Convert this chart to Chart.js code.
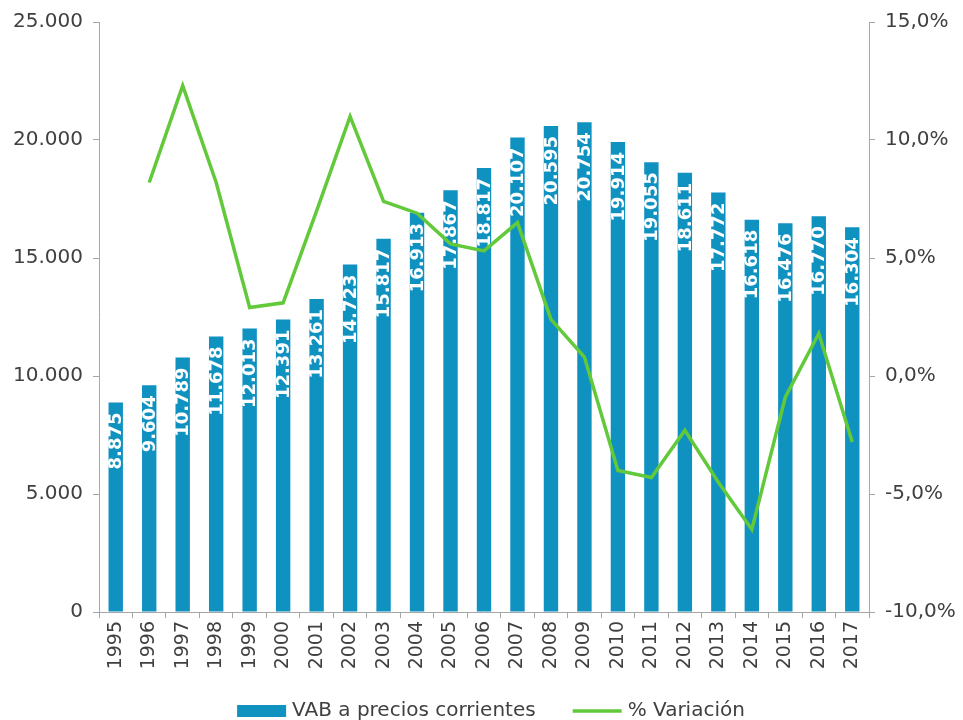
<!DOCTYPE html>
<html>
<head>
<meta charset="utf-8">
<script src="https://cdn.jsdelivr.net/npm/chart.js@4.4.1/dist/chart.umd.min.js"></script>
<style>
  html, body { margin: 0; padding: 0; background: #fff; }
  #wrap { width: 963px; height: 720px; }
</style>
</head>
<body>
<div id="wrap"><canvas id="vabChart" width="963" height="720"></canvas></div>
<script>
// VAB a precios corrientes y % variación, 1995-2017

const years = ['1995','1996','1997','1998','1999','2000','2001','2002','2003','2004','2005',
  '2006','2007','2008','2009','2010','2011','2012','2013','2014','2015','2016','2017'];

const vab = [8875, 9604, 10789, 11678, 12013, 12391, 13261, 14723, 15817, 16913, 17867,
  18817, 20107, 20595, 20754, 19914, 19055, 18611, 17772, 16618, 16476, 16770, 16304];

const variacion = [null, 8.2, 12.3, 8.2, 2.9, 3.1, 7.0, 11.0, 7.4, 6.9, 5.6,
  5.3, 6.5, 2.4, 0.8, -4.0, -4.3, -2.3, -4.5, -6.5, -0.9, 1.8, -2.8];

const leftTicks = [0, 5000, 10000, 15000, 20000, 25000];
const rightTicks = [-10, -5, 0, 5, 10, 15];

const fontFamily = '"DejaVu Sans", Verdana, sans-serif';
const barColor = '#1092c1';
const lineColor = '#62c93a';
const axisColor = '#a6a6a6';
const textColor = '#404040';

const fmtThousands = v => v.toLocaleString('de-DE');
const fmtPct = v => v.toFixed(1).replace('.', ',') + '%';

// white rotated value labels inside the bars (drawn before the line)
const barLabels = {
  id: 'barLabels',
  afterDatasetDraw(chart, args) {
    if (args.index !== 1) return;
    const ctx = chart.ctx;
    ctx.save();
    ctx.fillStyle = '#ffffff';
    ctx.font = 'bold 18px ' + fontFamily;
    ctx.textAlign = 'right';
    ctx.textBaseline = 'middle';
    args.meta.data.forEach((bar, i) => {
      ctx.save();
      ctx.translate(bar.x + 1, bar.y + 10);
      ctx.rotate(-Math.PI / 2);
      ctx.fillText(fmtThousands(vab[i]), 0, 0);
      ctx.restore();
    });
    ctx.restore();
  }
};

// legend along the bottom edge: bar swatch first, then the line
const bottomLegend = {
  id: 'bottomLegend',
  afterDraw(chart) {
    const ctx = chart.ctx;
    const items = [chart.data.datasets[1], chart.data.datasets[0]];
    const y = 711, swatch = 49, gap = 6, itemGap = 37;
    ctx.save();
    ctx.font = '20px ' + fontFamily;
    ctx.textBaseline = 'middle';
    const widths = items.map(d => swatch + gap + ctx.measureText(d.label).width);
    const total = widths.reduce((a, b) => a + b, 0) + itemGap;
    let x = 491 - total / 2;
    items.forEach((d, i) => {
      if (d.type === 'line') {
        ctx.strokeStyle = lineColor;
        ctx.lineWidth = 3.5;
        ctx.beginPath();
        ctx.moveTo(x, y);
        ctx.lineTo(x + swatch, y);
        ctx.stroke();
      } else {
        ctx.fillStyle = barColor;
        ctx.fillRect(x, y - 6, swatch, 12);
      }
      ctx.fillStyle = textColor;
      ctx.fillText(d.label, x + swatch + gap, y);
      x += widths[i] + itemGap;
    });
    ctx.restore();
  }
};

const ctx = document.getElementById('vabChart').getContext('2d');

new Chart(ctx, {
  type: 'bar',
  data: {
    labels: years,
    datasets: [
      {
        type: 'line',
        label: '% Variación',
        data: variacion,
        yAxisID: 'y1',
        borderColor: lineColor,
        backgroundColor: lineColor,
        borderWidth: 3.5,
        pointRadius: 0,
        tension: 0,
        order: 0
      },
      {
        label: 'VAB a precios corrientes',
        data: vab,
        yAxisID: 'y',
        backgroundColor: barColor,
        categoryPercentage: 1,
        barPercentage: 0.43,
        order: 1
      }
    ]
  },
  options: {
    responsive: false,
    animation: false,
    layout: { padding: { top: 18, right: 0, bottom: 0, left: 0 } },
    plugins: {
      legend: { display: false },
      tooltip: { enabled: false }
    },
    scales: {
      x: {
        afterFit: s => { s.height = 108; },
        grid: {
          display: true,
          drawOnChartArea: false,
          drawTicks: true,
          tickLength: 6,
          color: axisColor
        },
        border: { color: axisColor },
        ticks: {
          minRotation: 90,
          maxRotation: 90,
          color: textColor,
          font: { family: fontFamily, size: 19 },
          padding: 3
        }
      },
      y: {
        position: 'left',
        min: 0,
        max: 25000,
        afterFit: s => { s.width = 99; },
        afterBuildTicks: axis => { axis.ticks = leftTicks.map(v => ({ value: v })); },
        grid: { drawOnChartArea: false, drawTicks: true, tickLength: 6, color: axisColor },
        border: { color: axisColor },
        ticks: {
          color: textColor,
          font: { family: fontFamily, size: 20 },
          padding: 10,
          callback: v => fmtThousands(v)
        }
      },
      y1: {
        position: 'right',
        min: -10,
        max: 15,
        afterFit: s => { s.width = 94; },
        afterBuildTicks: axis => { axis.ticks = rightTicks.map(v => ({ value: v })); },
        grid: { drawOnChartArea: false, drawTicks: true, tickLength: 6, color: axisColor },
        border: { color: axisColor },
        ticks: {
          color: textColor,
          font: { family: fontFamily, size: 20 },
          padding: 10,
          callback: v => fmtPct(v)
        }
      }
    }
  },
  plugins: [barLabels, bottomLegend]
});
</script>
</body>
</html>
